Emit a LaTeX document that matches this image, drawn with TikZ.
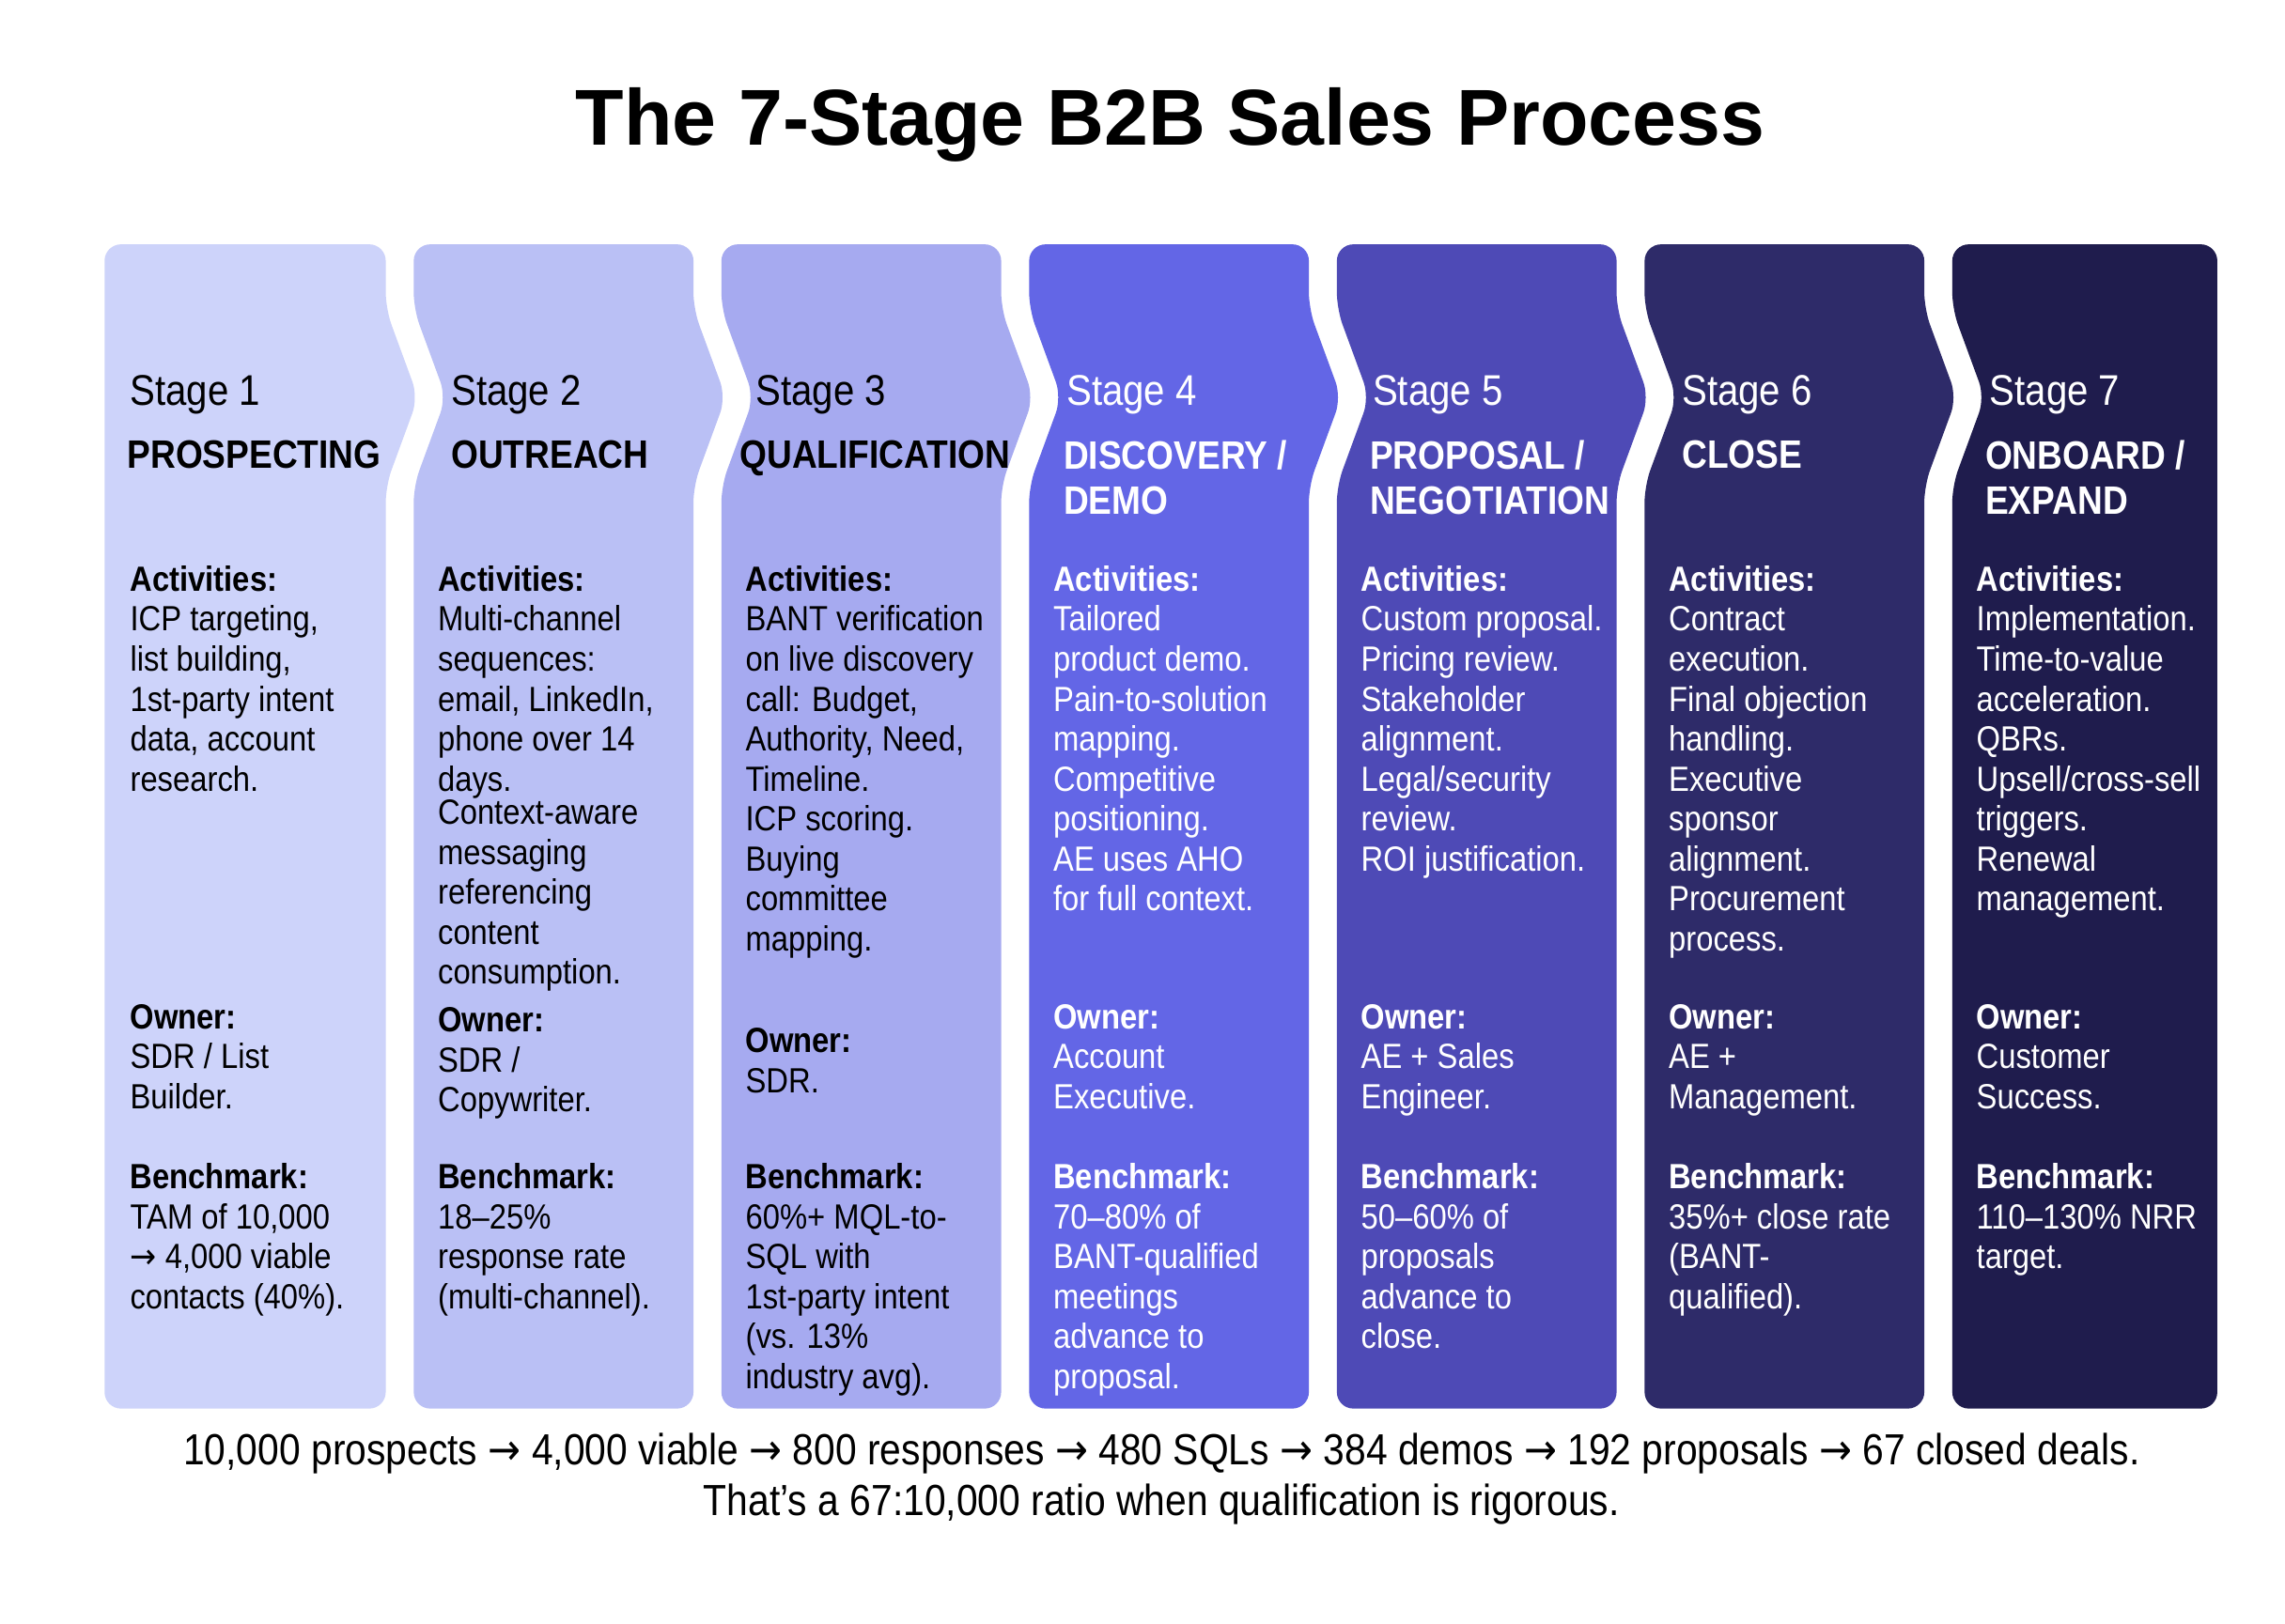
\documentclass[tikz,border=0pt]{standalone}
\usepackage{fontspec}
\setmainfont{Liberation Sans}[FakeStretch=0.88]
\newfontfamily\titlefont{Liberation Sans}
\newfontfamily\arrowfont{DejaVu Sans}[FakeStretch=0.9]
\newcommand\flowarrow{{\arrowfont →}}
\definecolor{cA}{HTML}{CDD3FA}
\definecolor{cB}{HTML}{BAC0F5}
\definecolor{cC}{HTML}{A6AAF0}
\definecolor{cD}{HTML}{6366E6}
\definecolor{cE}{HTML}{4E4AB6}
\definecolor{cF}{HTML}{2E2B69}
\definecolor{cG}{HTML}{1F1C4D}
\tikzset{
  stage label/.style={anchor=west, inner sep=0pt, font=\fontsize{13}{15}\selectfont},
  stage name/.style={anchor=north west, inner sep=0pt, align=left,
    font=\fontsize{12}{13.6}\selectfont\bfseries},
  body/.style={anchor=north west, inner sep=0pt, align=left,
    font=\fontsize{10.6}{12.1}\selectfont},
  light/.style={text=white},
}
\begin{document}
\begin{tikzpicture}[x=0.01567cm, y=-0.01567cm]
  \useasboundingbox[fill=white] (0,0) rectangle (1552,1103);
  \node[font=\titlefont\fontsize{24}{28}\selectfont\bfseries] (title) at (795,85) {The 7-Stage B2B Sales Process};
  % columns
  \foreach \L/\R/\nl/\nr/\c in {71/262/0/22/cA, 281/471/22/22/cB, 490/680/22/22/cC,
      699/889/22/22/cD, 908/1098/22/22/cE, 1117/1307/22/22/cF, 1326/1506/22/0/cG}
    \fill[\c, rounded corners=5pt] (\L,166) -- (\R,166) -- (\R,210) -- ({\R+\nr},270)
      -- (\R,330) -- (\R,957) -- (\L,957) -- (\L,330) -- ({\L+\nl},270) -- (\L,210) -- cycle;
  % stage 1
  \node[stage label] (st1) at (88,268) {Stage 1};
  \node[stage name] (nm1) at (86,299) {PROSPECTING};
  \node[body] (act1) at (88,384) {\textbf{Activities:}\\ICP targeting,\\list building,\\1st-party intent\\data, account\\research.};
  \node[body] (own1) at (88,682) {\textbf{Owner:}\\SDR / List\\Builder.};
  \node[body] (ben1) at (88,790) {\textbf{Benchmark:}\\TAM of 10,000\\\flowarrow{} 4,000 viable\\contacts (40\%).};
  % stage 2
  \node[stage label] (st2) at (306,268) {Stage 2};
  \node[stage name] (nm2) at (306,299) {OUTREACH};
  \node[body] (act2) at (297,384) {\textbf{Activities:}\\Multi-channel\\sequences:\\email, LinkedIn,\\phone over 14\\days.\\[-2pt]Context-aware\\messaging\\referencing\\content\\consumption.};
  \node[body] (own2) at (297,684) {\textbf{Owner:}\\SDR /\\Copywriter.};
  \node[body] (ben2) at (297,790) {\textbf{Benchmark:}\\18–25\%\\response rate\\(multi-channel).};
  % stage 3
  \node[stage label] (st3) at (513,268) {Stage 3};
  \node[stage name] (nm3) at (502,299) {QUALIFICATION};
  \node[body] (act3) at (506,384) {\textbf{Activities:}\\BANT verification\\on live discovery\\call: Budget,\\Authority, Need,\\Timeline.\\ICP scoring.\\Buying\\committee\\mapping.};
  \node[body] (own3) at (506,698) {\textbf{Owner:}\\SDR.};
  \node[body] (ben3) at (506,790) {\textbf{Benchmark:}\\60\%+ MQL-to-\\SQL with\\1st-party intent\\(vs. 13\%\\industry avg).};
  % stage 4
  \node[stage label, light] (st4) at (724,268) {Stage 4};
  \node[stage name, light] (nm4) at (722,299) {DISCOVERY /\\DEMO};
  \node[body, light] (act4) at (715,384) {\textbf{Activities:}\\Tailored\\product demo.\\Pain-to-solution\\mapping.\\Competitive\\positioning.\\AE uses AHO\\for full context.};
  \node[body, light] (own4) at (715,682) {\textbf{Owner:}\\Account\\Executive.};
  \node[body, light] (ben4) at (715,790) {\textbf{Benchmark:}\\70–80\% of\\BANT-qualified\\meetings\\advance to\\proposal.};
  % stage 5
  \node[stage label, light] (st5) at (932,268) {Stage 5};
  \node[stage name, light] (nm5) at (930,299) {PROPOSAL /\\NEGOTIATION};
  \node[body, light] (act5) at (924,384) {\textbf{Activities:}\\Custom proposal.\\Pricing review.\\Stakeholder\\alignment.\\Legal/security\\review.\\ROI justification.};
  \node[body, light] (own5) at (924,682) {\textbf{Owner:}\\AE + Sales\\Engineer.};
  \node[body, light] (ben5) at (924,790) {\textbf{Benchmark:}\\50–60\% of\\proposals\\advance to\\close.};
  % stage 6
  \node[stage label, light] (st6) at (1142,268) {Stage 6};
  \node[stage name, light] (nm6) at (1142,299) {CLOSE};
  \node[body, light] (act6) at (1133,384) {\textbf{Activities:}\\Contract\\execution.\\Final objection\\handling.\\Executive\\sponsor\\alignment.\\Procurement\\process.};
  \node[body, light] (own6) at (1133,682) {\textbf{Owner:}\\AE +\\Management.};
  \node[body, light] (ben6) at (1133,790) {\textbf{Benchmark:}\\35\%+ close rate\\(BANT-\\qualified).};
  % stage 7
  \node[stage label, light] (st7) at (1351,268) {Stage 7};
  \node[stage name, light] (nm7) at (1348,299) {ONBOARD /\\EXPAND};
  \node[body, light] (act7) at (1342,384) {\textbf{Activities:}\\Implementation.\\Time-to-value\\acceleration.\\QBRs.\\Upsell/cross-sell\\triggers.\\Renewal\\management.};
  \node[body, light] (own7) at (1342,682) {\textbf{Owner:}\\Customer\\Success.};
  \node[body, light] (ben7) at (1342,790) {\textbf{Benchmark:}\\110–130\% NRR\\target.};
  % summary
  \node[align=center, inner sep=0pt, font=\fontsize{13.2}{15.4}\selectfont] (sum) at (789,1005)
    {10,000 prospects \flowarrow{} 4,000 viable \flowarrow{} 800 responses \flowarrow{} 480 SQLs \flowarrow{} 384 demos \flowarrow{} 192 proposals \flowarrow{} 67 closed deals.\\That’s a 67:10,000 ratio when qualification is rigorous.};
\end{tikzpicture}
\end{document}
